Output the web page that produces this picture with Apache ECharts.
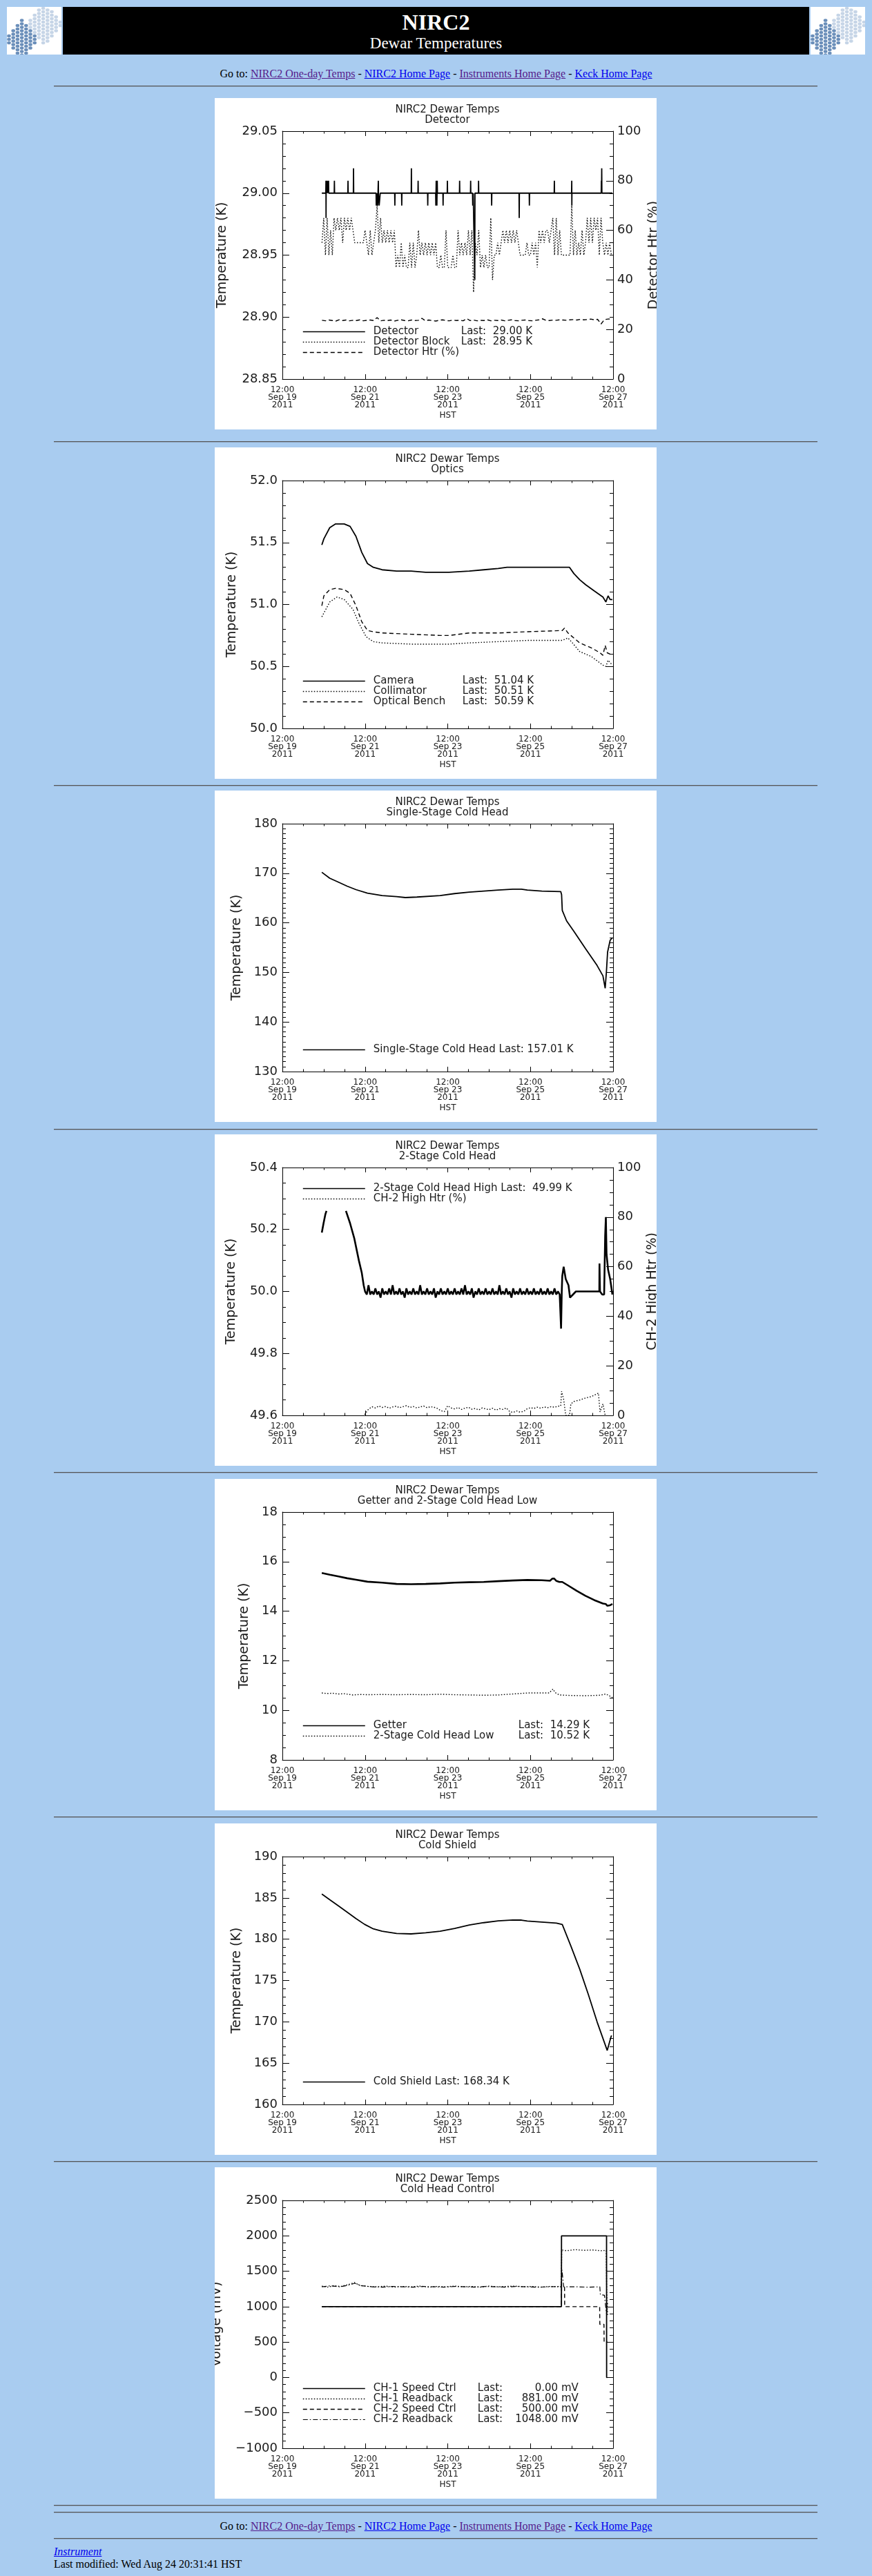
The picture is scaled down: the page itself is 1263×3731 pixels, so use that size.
<!DOCTYPE html>
<html>
<head>
<meta charset="utf-8">
<title>NIRC2 Dewar Temperatures</title>
<script src="https://cdn.jsdelivr.net/npm/echarts@6/dist/echarts.min.js"></script>
<style>
body { margin: 0; background: #a9ccf0; font-family: "Liberation Serif", "Times New Roman", serif; font-size: 16px; color: #000; }
#page { position: relative; width: 1263px; height: 3731px; overflow: hidden; }
.logo { position: absolute; top: 10px; width: 79px; height: 69px; background: #fff; }
.banner { position: absolute; left: 91px; top: 10px; width: 1081px; height: 69px; background: #000; color: #fff; text-align: center; }
.banner .t1 { position: absolute; left: 0; width: 100%; top: 4px; line-height: 36px; font-size: 32px; font-weight: bold; }
.banner .t2 { position: absolute; left: 0; width: 100%; top: 40px; line-height: 26px; font-size: 23px; }
.rule { position: absolute; left: 78px; width: 1106px; height: 0; border-top: 1px solid #555; border-bottom: 1px solid #8ea6c2; }
.goto { position: absolute; left: 0; width: 1263px; text-align: center; line-height: 18px; }
a.v { color: #551a8b; text-decoration: underline; }
a.u { color: #0000ee; text-decoration: underline; }
.foot { position: absolute; left: 78px; line-height: 18px; }
.panel { position: absolute; left: 311px; width: 640px; height: 480px; background: #fff; }
</style>
</head>
<body>
<div id="page">
  <svg class="logo" id="logoL" style="left:10px" viewBox="0 0 79 69"></svg>
  <div class="banner"><div class="t1">NIRC2</div><div class="t2">Dewar Temperatures</div></div>
  <svg class="logo" id="logoR" style="left:1174px" viewBox="0 0 79 69"></svg>

  <div class="goto" style="top:98px">Go to: <a class="v" href="#">NIRC2 One-day Temps</a> - <a class="u" href="#">NIRC2 Home Page</a> - <a class="v" href="#">Instruments Home Page</a> - <a class="u" href="#">Keck Home Page</a></div>

  <div id="panels"></div>

  <div class="goto" style="top:3650px">Go to: <a class="v" href="#">NIRC2 One-day Temps</a> - <a class="u" href="#">NIRC2 Home Page</a> - <a class="v" href="#">Instruments Home Page</a> - <a class="u" href="#">Keck Home Page</a></div>
  <div class="foot" style="top:3687px"><a class="u" href="#"><i>Instrument</i></a></div>
  <div class="foot" style="top:3705px">Last modified: Wed Aug 24 20:31:41 HST</div>
</div>

<script>
// x values are hours since 12:00 HST, Sep 19 2011
var xTickLabels = ['12:00\nSep 19\n2011', '12:00\nSep 21\n2011', '12:00\nSep 23\n2011', '12:00\nSep 25\n2011', '12:00\nSep 27\n2011'];

/* --- Detector --- */
var detectorTemp = [[22.9,29.00],
  [25.2,29.00],[25.3,29.01],[25.35,28.98],[25.4,29.00],
  [25.9,29.00],[26.0,29.01],[26.1,29.00],
  [26.7,29.00],[26.8,29.01],[26.9,29.00],
  [30.1,29.00],[30.2,29.01],[30.3,29.00],
  [38.0,29.00],[38.1,29.01],[38.2,29.00],
  [41.2,29.00],[41.3,29.02],[41.4,29.00],
  [54.4,29.00],[54.5,28.99],[54.7,28.99],[54.8,29.00],
  [55.2,29.00],[55.3,28.99],[55.5,29.00],[55.7,29.01],[55.8,29.00],
  [56.1,29.00],[56.2,28.99],[56.7,28.99],[56.8,29.00],
  [65.2,29.00],[65.3,28.99],[65.4,29.00],
  [69.2,29.00],[69.3,28.99],[69.4,29.00],
  [74.8,29.00],[74.9,29.02],[75.0,29.00],
  [78.7,29.00],[78.8,29.01],[78.9,29.00],
  [84.3,29.00],[84.4,28.99],[84.5,29.00],
  [89.0,29.00],[89.1,28.99],[89.2,29.00],[89.3,29.01],[89.4,29.00],[89.6,29.00],[89.7,28.99],[89.8,29.00],[89.9,29.01],[90.0,29.00],
  [93.2,29.00],[93.3,28.99],[93.4,29.00],
  [95.7,29.00],[95.8,29.01],[95.9,29.00],
  [102.8,29.00],[102.9,29.01],[103.0,29.00],
  [109.2,29.00],[109.3,29.01],[109.4,29.00],
  [110.4,29.00],[110.5,28.99],[110.7,28.99],[110.8,29.00],
  [111.6,29.00],[111.7,28.93],[111.8,29.00],
  [113.8,29.00],[113.9,29.01],[114.0,29.00],
  [121.4,29.00],[121.5,28.99],[121.6,29.00],
  [137.4,29.00],[137.5,28.98],[137.6,29.00],
  [143.3,29.00],[143.4,28.99],[143.5,29.00],
  [157.8,29.00],[157.9,29.01],[158.0,29.00],
  [167.9,29.00],[168.0,29.01],[168.05,28.99],[168.1,29.00],
  [185.1,29.00],[185.2,29.01],[185.3,29.00],[185.4,29.02],[185.5,29.00],
  [191.6,29.00]];
// hourly samples from hour 23
var blockStart = 23;
var blockTemp = [28.96,
  28.98,28.95,28.98,28.95,28.97,28.95,28.98,
  28.97,28.98,28.97,28.98,28.96,28.98,28.97,28.98,28.97,28.98,28.97,28.96,
  28.96,28.96,28.96,28.96,28.96,28.97,28.96,
  28.95,28.97,28.95,28.96,28.97,
  28.99,28.96,28.98,28.96,
  28.97,28.96,28.97,28.96,28.97,28.96,28.97,
  28.94,28.95,28.94,28.96,28.94,28.95,28.94,28.94,28.96,28.94,
  28.96,28.94,28.95,28.97,
  28.95,28.96,28.95,28.96,28.95,28.96,28.95,28.96,28.95,28.96,
  28.94,28.94,28.95,28.94,28.94,28.97,28.94,28.94,28.94,28.95,28.94,28.94,28.97,
  28.95,28.96,28.95,28.96,28.95,28.97,28.95,28.97,28.92,28.96,28.95,28.97,
  28.94,28.95,28.94,28.95,
  28.94,28.94,28.98,28.93,28.95,
  28.95,28.96,28.95,28.96,28.97,28.96,28.97,
  28.96,28.97,28.96,28.97,28.96,28.97,28.96,28.95,
  28.95,28.95,28.95,28.96,28.95,28.95,28.96,28.95,
  28.96,28.94,28.97,
  28.96,28.97,28.96,28.97,28.97,28.96,28.97,28.98,
  28.95,28.98,28.95,28.97,28.95,
  28.95,28.95,28.95,28.95,28.95,28.99,
  28.95,28.97,28.95,28.96,28.95,28.97,28.95,28.96,
  28.98,28.96,28.98,28.96,28.98,
  28.97,28.98,28.95,28.98,28.96,
  28.95,28.96,28.95,28.96,28.95];
// samples every 2 hours from hour 23, percent
var htrStart = 23;
var detectorHtr = [23.7,23.5,23.8,23.6,23.4,23.9,23.6,23.8,23.5,23.7,
  23.6,23.9,23.5,23.7,23.8,23.6,24.8,23.5,23.7,23.6,
  23.8,23.4,23.7,23.9,23.6,23.5,23.8,23.6,23.7,24.5,
  23.5,23.8,23.6,23.4,23.7,23.9,23.6,23.5,23.8,23.6,
  23.7,23.5,24.4,23.6,23.8,23.5,23.7,23.6,23.9,23.5,
  23.7,23.6,23.8,23.5,23.7,23.9,23.6,23.5,23.7,23.8,
  23.6,23.5,23.7,23.9,24.3,23.7,23.6,23.8,23.7,23.9,
  23.8,23.7,23.9,24.0,23.8,24.1,23.9,24.0,24.2,23.9,
  24.1,22.2,24.0,24.2,24.3];

/* --- Optics --- */
var cameraTemp = [[22.9,51.48],[24.1,51.53],[27.5,51.62],[30.9,51.65],[35.9,51.65],[39.3,51.63],[42.7,51.55],[46.1,51.42],
  [49.4,51.33],[52.8,51.30],[57.9,51.28],[66.3,51.27],[74.7,51.27],[83.2,51.26],[91.6,51.26],[96.7,51.26],[108.5,51.27],
  [116.9,51.28],[125.3,51.29],[130.4,51.30],[142.2,51.30],[166.7,51.30],[169.2,51.25],[172.6,51.20],[176.0,51.16],[181.0,51.11],
  [186.1,51.06],[187.8,51.02],[189.1,51.07],[190.3,51.04],[191.6,51.04]];
var collimatorTemp = [[22.9,50.90],[27.5,51.02],[31.7,51.06],[35.9,51.04],[41.0,50.96],[44.4,50.85],[48.6,50.74],[52.8,50.70],
  [57.9,50.69],[74.7,50.68],[91.6,50.68],[96.7,50.68],[108.5,50.69],[125.3,50.70],[142.2,50.71],[162.5,50.71],[165.8,50.73],
  [168.4,50.69],[172.6,50.62],[179.4,50.58],[186.1,50.51],[187.8,50.50],[189.1,50.55],[191.6,50.51]];
var benchTemp = [[22.9,50.99],[24.1,51.07],[27.5,51.12],[30.9,51.13],[35.9,51.12],[39.3,51.09],[42.7,50.99],[46.1,50.86],
  [49.4,50.79],[52.8,50.78],[57.9,50.77],[74.7,50.76],[91.6,50.75],[96.7,50.75],[108.5,50.77],[125.3,50.77],[142.2,50.78],
  [162.5,50.79],[163.8,50.81],[165.8,50.77],[169.2,50.73],[172.6,50.69],[179.4,50.65],[184.4,50.61],[186.1,50.59],[187.4,50.67],
  [188.6,50.61],[191.6,50.59]];

/* --- Single-stage cold head --- */
var singleStageTemp = [[22.9,170.2],[27.5,169.0],[32.6,168.2],[37.6,167.4],[42.7,166.7],[49.4,166.0],[57.9,165.5],[66.3,165.3],
  [71.4,165.1],[78.1,165.2],[91.6,165.5],[100.0,165.9],[108.5,166.2],[116.9,166.4],[125.3,166.6],[133.8,166.8],[138.8,166.8],
  [142.2,166.6],[150.6,166.4],[161.6,166.3],[162.1,165.7],[162.5,162.5],[165.0,160.4],[169.2,158.3],[176.0,154.8],[182.7,151.4],
  [186.1,149.3],[187.4,146.8],[188.1,150.0],[188.8,154.1],[190.3,156.5],[191.6,157.0]];

/* --- 2-stage cold head high --- */
var highPre = [[22.9,50.19],[23.9,50.22],[25.0,50.25],[25.6,50.26],[25.7,'-'],[36.9,50.26],[39.3,50.22],[41.8,50.17],
  [44.4,50.10],[46.1,50.06],[47.2,50.02]];
var highNoiseStart = 48; // hourly
var highNoise = [50.00,49.99,50.02,49.99,50.00,49.99,50.01,49.99,50.00,49.98,
  50.01,49.99,50.00,49.99,50.01,49.99,50.02,49.99,50.00,49.99,
  50.01,49.99,50.00,49.98,50.01,49.99,50.00,49.99,50.01,49.99,
  50.00,49.99,50.02,49.99,50.00,49.99,50.01,49.99,50.00,49.99,
  50.01,49.98,50.00,49.99,50.01,49.99,50.00,49.99,50.01,49.99,
  50.00,49.99,50.01,49.99,50.00,49.99,50.01,49.99,50.02,49.99,
  50.00,49.99,50.01,49.98,50.00,49.99,50.01,49.99,50.00,49.99,
  50.01,49.99,50.00,49.99,50.01,49.99,50.00,49.99,50.02,49.99,
  50.00,49.99,50.01,49.99,50.00,49.98,50.01,49.99,50.00,49.99,
  50.01,49.99,50.00,49.99,50.01,49.99,50.00,49.99,50.01,49.99,
  50.00,49.99,50.01,49.99,50.00,49.99,50.01,49.99,50.00,49.99,
  50.01,49.99,50.00,49.99];
var highPost = [[161.8,49.88],[162.2,50.00],[162.5,50.05],[163.3,50.08],[164.5,50.04],[166.1,50.02],[167.0,49.98],[168.7,49.99],
  [170.4,50.00],[175.0,50.00],[180.0,50.00],[184.0,50.00],[184.1,50.09],[184.4,50.00],[185.7,49.99],[186.8,49.99],[187.4,50.18],
  [187.8,50.24],[188.2,50.12],[189.1,50.07],[190.3,50.04],[191.6,49.99]];
var ch2HtrPre = [[47.7,0.3],[50.0,2.5]];
var ch2HtrStart = 52; // every 2 hours, percent
var ch2Htr = [3.5,3.0,3.8,3.2,3.6,2.9,3.4,3.7,3.1,3.5,3.9,3.2,3.6,3.0,3.4,3.8,3.1,3.5,3.3,2.8,
  1.9,1.5,3.9,
  3.0,2.6,3.2,2.4,2.9,3.3,2.5,2.8,2.2,3.0,2.6,2.3,2.9,2.1,2.7,2.4,3.0,
  1.5,1.2,1.8,1.3,1.6,
  2.6,3.1,2.8,3.3,2.9,3.4,3.1,3.5,3.3,3.7];
var ch2HtrPost = [[161.6,3.8],[162.1,9.7],[163.3,6.5],[164.5,0],[166.7,0],[167.5,4.6],[169.2,5.6],[172.6,6.2],[176.0,7.0],
  [179.4,7.6],[183.5,9.0],[184.4,1.4],[186.1,4.6],[187.4,0]];

/* --- Getter and 2-stage low --- */
var getterTemp = [[22.9,15.54],[27.5,15.47],[32.6,15.40],[37.6,15.33],[42.7,15.27],[49.4,15.19],[57.9,15.15],[66.3,15.10],
  [74.7,15.09],[83.2,15.10],[91.6,15.12],[100.0,15.15],[108.5,15.17],[116.9,15.18],[125.3,15.21],[133.8,15.24],[142.2,15.26],
  [150.6,15.25],[155.4,15.23],[156.6,15.31],[157.7,15.32],[159.1,15.22],[160.8,15.18],[162.5,15.18],[165.8,15.04],[170.9,14.82],
  [176.0,14.62],[181.0,14.45],[186.1,14.31],[187.8,14.29],[188.6,14.22],[190.3,14.24],[191.6,14.29]];
var lowTemp = [[22.9,10.70],[26.0,10.68],[29.2,10.69],[32.5,10.66],[35.9,10.67],[41.0,10.62],[45.0,10.64],[49.4,10.63],
  [57.9,10.64],[66.0,10.63],[74.7,10.64],[83.0,10.63],[91.6,10.65],[100.0,10.63],[108.5,10.62],[116.9,10.61],[125.3,10.62],
  [133.8,10.66],[142.2,10.70],[150.6,10.70],[154.9,10.70],[157.1,10.86],[158.3,10.72],[160.8,10.62],[167.5,10.60],[176.0,10.59],
  [184.4,10.61],[187.8,10.66],[191.6,10.52]];

/* --- Cold shield --- */
var coldShieldTemp = [[22.9,185.47],[27.5,184.78],[32.6,184.03],[37.6,183.28],[42.7,182.5],[47.7,181.8],[52.8,181.25],
  [57.9,180.97],[66.3,180.69],[74.7,180.64],[83.2,180.78],[91.6,180.97],[100.0,181.3],[108.5,181.72],[116.9,182.0],[125.3,182.22],
  [133.8,182.33],[138.8,182.31],[142.2,182.19],[150.6,182.08],[159.1,181.94],[162.5,181.78],[167.5,179.17],[172.6,176.39],
  [177.6,173.33],[182.7,170.0],[188.6,166.53],[189.4,166.67],[190.8,168.19],[191.1,168.34]];

/* --- Cold head control (mV) --- */
var ch1Ctrl = [[22.9,1000],[162.0,1000],[162.05,2000],[188.2,2000],[188.25,0],[188.6,0]];
var ch1Readback = [[22.9,1290],[26,1275],[30,1295],[34,1285],[38,1310],[41.8,1340],[45,1300],[50,1285],[55,1280],[60,1290],
  [65,1275],[70,1285],[75,1280],[80,1290],[85,1275],[90,1285],[95,1280],[100,1290],[105,1280],[110,1285],[115,1275],[120,1290],
  [125,1280],[130,1285],[135,1290],[140,1280],[145,1285],[150,1275],[155,1285],[161.9,1280],[162.2,1800],[165,1790],[170,1805],
  [175,1795],[180,1800],[185,1790],[188.0,1795],[188.3,1200],[188.8,881]];
var ch2Ctrl = [[22.9,1000],[162.0,1000],[162.1,1280],[163.8,1280],[163.9,1000],[184.2,1000],[184.3,750],[186.7,750],
  [186.8,500],[188.8,500]];
var ch2Readback = [[22.9,1280],[28,1295],[33,1280],[38,1300],[42,1330],[46,1295],[52,1280],[58,1275],[64,1285],[70,1280],
  [76,1275],[82,1285],[88,1280],[94,1275],[100,1285],[106,1280],[112,1275],[118,1285],[124,1280],[130,1275],[136,1285],
  [142,1280],[148,1275],[154,1280],[161.9,1285],[162.3,1520],[162.8,1400],[163.3,1280],[170,1280],[178,1275],[184.3,1280],
  [184.6,1170],[187.0,1160],[187.5,1040],[188.2,900],[188.8,1048]];

var panelTops = [142, 648, 1145, 1643, 2142, 2641, 3139];
var ruleTops = [124, 639, 1137, 1635, 2132, 2631, 3130, 3628, 3638, 3676];

var FONT = 'DejaVu Sans';
var INK = '#1a1a1a';

function sampled(start, step, values) {
  return values.map(function (v, i) { return [start + i * step, v]; });
}

var lineTypes = {
  solid: { type: 'solid', width: 1.8 },
  thick: { type: 'solid', width: 2.6 },
  dotted: { type: [1.5, 2.5], width: 1.4 },
  dashed: { type: [6, 4], width: 1.4 },
  dashdot: { type: [7, 3, 1.5, 3], width: 1.2 }
};

var panels = [
  { subtitle: 'Detector',
    left: { min: 28.85, max: 29.05, interval: 0.05, minor: 5, decimals: 2, name: 'Temperature (K)', nameGap: 77 },
    right: { min: 0, max: 100, interval: 20, minor: 4, decimals: 0, name: 'Detector Htr (%)', nameGap: 50 },
    legendTop: 331, nameW: 127,
    series: [
      { name: 'Detector', data: detectorTemp, style: 'solid', n: 'Detector', l: 'Last:  29.00 K' },
      { name: 'Detector Block', data: sampled(blockStart, 1, blockTemp), style: 'dotted', n: 'Detector Block', l: 'Last:  28.95 K' },
      { name: 'Detector Htr (%)', data: sampled(htrStart, 2, detectorHtr), style: 'dashed', axis: 1, n: 'Detector Htr (%)' }
    ] },
  { subtitle: 'Optics',
    left: { min: 50.0, max: 52.0, interval: 0.5, minor: 5, decimals: 1, name: 'Temperature (K)', nameGap: 63 },
    legendTop: 331, nameW: 129,
    series: [
      { name: 'Camera', data: cameraTemp, style: 'solid', n: 'Camera', l: 'Last:  51.04 K' },
      { name: 'Collimator', data: collimatorTemp, style: 'dotted', n: 'Collimator', l: 'Last:  50.51 K' },
      { name: 'Optical Bench', data: benchTemp, style: 'dashed', n: 'Optical Bench', l: 'Last:  50.59 K' }
    ] },
  { subtitle: 'Single-Stage Cold Head',
    left: { min: 130, max: 180, interval: 10, minor: 10, decimals: 0, name: 'Temperature (K)', nameGap: 56 },
    legendTop: 368,
    series: [
      { name: 'Single-Stage Cold Head', data: singleStageTemp, style: 'solid', n: 'Single-Stage Cold Head Last: 157.01 K' }
    ] },
  { subtitle: '2-Stage Cold Head',
    left: { min: 49.6, max: 50.4, interval: 0.2, minor: 4, decimals: 1, name: 'Temperature (K)', nameGap: 64 },
    right: { min: 0, max: 100, interval: 20, minor: 4, decimals: 0, name: 'CH-2 High Htr (%)', nameGap: 48 },
    legendTop: 71,
    series: [
      { name: '2-Stage Cold Head High', data: highPre.concat(sampled(highNoiseStart, 1, highNoise), highPost), style: 'thick',
        legendStyle: 'solid', n: '2-Stage Cold Head High Last:  49.99 K' },
      { name: 'CH-2 High Htr (%)', data: ch2HtrPre.concat(sampled(ch2HtrStart, 2, ch2Htr), ch2HtrPost), style: 'dotted', axis: 1,
        n: 'CH-2 High Htr (%)' }
    ] },
  { subtitle: 'Getter and 2-Stage Cold Head Low',
    left: { min: 8, max: 18, interval: 2, minor: 4, decimals: 0, name: 'Temperature (K)', nameGap: 45 },
    legendTop: 350, nameW: 210,
    series: [
      { name: 'Getter', data: getterTemp, style: 'thick', n: 'Getter', l: 'Last:  14.29 K' },
      { name: '2-Stage Cold Head Low', data: lowTemp, style: 'dotted', n: '2-Stage Cold Head Low', l: 'Last:  10.52 K' }
    ] },
  { subtitle: 'Cold Shield',
    left: { min: 160, max: 190, interval: 5, minor: 5, decimals: 0, name: 'Temperature (K)', nameGap: 56 },
    legendTop: 367,
    series: [
      { name: 'Cold Shield', data: coldShieldTemp, style: 'solid', n: 'Cold Shield Last: 168.34 K' }
    ] },
  { subtitle: 'Cold Head Control',
    left: { min: -1000, max: 2500, interval: 500, minor: 5, decimals: 0, name: 'Voltage (mV)', nameGap: 85 },
    legendTop: 313, nameW: 151, valueW: 106,
    series: [
      { name: 'CH-1 Speed Ctrl', data: ch1Ctrl, style: 'solid', n: 'CH-1 Speed Ctrl', l: 'Last:', v: '0.00 mV' },
      { name: 'CH-1 Readback', data: ch1Readback, style: 'dotted', n: 'CH-1 Readback', l: 'Last:', v: '881.00 mV' },
      { name: 'CH-2 Speed Ctrl', data: ch2Ctrl, style: 'dashed', n: 'CH-2 Speed Ctrl', l: 'Last:', v: '500.00 mV' },
      { name: 'CH-2 Readback', data: ch2Readback, style: 'dashdot', n: 'CH-2 Readback', l: 'Last:', v: '1048.00 mV' }
    ] }
];

function numberFormatter(decimals) {
  return function (v) { return v.toFixed(decimals).replace('-', '\u2212'); };
}

function xAxisFor(position) {
  var axis = {
    type: 'value', position: position, min: 0, max: 192, interval: 48,
    axisLine: { show: true, onZero: false, lineStyle: { color: '#000', width: 1 } },
    axisTick: { show: true, inside: true, length: 7, lineStyle: { color: '#000' } },
    minorTick: { show: true, splitNumber: 4, length: 3.5, lineStyle: { color: '#000' } },
    splitLine: { show: false },
    axisLabel: { show: false }
  };
  if (position === 'bottom') {
    axis.axisLabel = { show: true, margin: 10, fontFamily: FONT, fontSize: 12, lineHeight: 11, color: INK,
      formatter: function (v) { return xTickLabels[Math.round(v / 48)]; } };
    axis.name = 'HST';
    axis.nameLocation = 'middle';
    axis.nameGap = 47;
    axis.nameMoveOverlap = false;
    axis.nameTextStyle = { fontFamily: FONT, fontSize: 12, color: INK };
  }
  return axis;
}

function yAxisFor(a, position, withLabels) {
  var axis = {
    type: 'value', position: position, min: a.min, max: a.max, interval: a.interval,
    axisLine: { show: true, onZero: false, lineStyle: { color: '#000', width: 1 } },
    axisTick: { show: true, inside: true, length: 10, lineStyle: { color: '#000' } },
    minorTick: { show: true, splitNumber: a.minor, length: 5, lineStyle: { color: '#000' } },
    splitLine: { show: false },
    axisLabel: { show: false }
  };
  if (withLabels) {
    axis.axisLabel = { show: true, margin: position === 'left' ? 7 : 6, fontFamily: FONT, fontSize: 18, color: INK,
      formatter: numberFormatter(a.decimals) };
    axis.name = a.name;
    axis.nameLocation = 'middle';
    axis.nameRotate = 90;
    axis.nameGap = a.nameGap;
    axis.nameMoveOverlap = false;
    axis.nameTextStyle = { fontFamily: FONT, fontSize: 19, color: INK };
  }
  return axis;
}

function legendText(p, s) {
  if (p.valueW) return '{n|' + s.n + '}{l|' + s.l + '}{v|' + s.v + '}';
  if (p.nameW && s.l) return '{n|' + s.n + '}{l|' + s.l + '}';
  return '{l|' + s.n + '}';
}

function drawPanel(p, idx) {
  var div = document.createElement('div');
  div.className = 'panel';
  div.style.top = panelTops[idx] + 'px';
  document.getElementById('panels').appendChild(div);

  var chart = echarts.init(div);
  var texts = {};
  p.series.forEach(function (s) { texts[s.name] = legendText(p, s); });
  var rich = {
    n: { fontFamily: FONT, fontSize: 15, color: INK, width: p.nameW || 0 },
    l: { fontFamily: FONT, fontSize: 15, color: INK, width: p.valueW ? 40 : undefined },
    v: { fontFamily: FONT, fontSize: 15, color: INK, width: p.valueW || 0, align: 'right' }
  };

  chart.setOption({
    animation: false,
    backgroundColor: '#fff',
    title: {
      text: 'NIRC2 Dewar Temps\n' + p.subtitle, left: 337, top: 10, padding: 0, textAlign: 'center',
      textStyle: { fontFamily: FONT, fontSize: 15, fontWeight: 'normal', lineHeight: 14.5, color: INK }
    },
    grid: { left: 98, right: 63, top: 48, bottom: 73, containLabel: false, outerBoundsMode: 'none' },
    legend: {
      left: 127, top: p.legendTop, orient: 'vertical', padding: 0, itemGap: 0,
      itemWidth: 90, itemHeight: 18, selectedMode: false,
      itemStyle: { opacity: 0 },
      data: p.series.map(function (s) {
        var ls = lineTypes[s.legendStyle || s.style];
        return { name: s.name, lineStyle: { type: ls.type, width: Math.min(ls.width, 1.6), color: '#000' } };
      }),
      formatter: function (name) { return texts[name]; },
      textStyle: { fontFamily: FONT, fontSize: 15, color: INK, padding: [0, 0, 0, 7], rich: rich }
    },
    xAxis: [xAxisFor('bottom'), xAxisFor('top')],
    yAxis: [yAxisFor(p.left, 'left', true), p.right ? yAxisFor(p.right, 'right', true) : yAxisFor(p.left, 'right', false)],
    series: p.series.map(function (s) {
      return {
        name: s.name, type: 'line', data: s.data, xAxisIndex: 0, yAxisIndex: s.axis || 0,
        symbol: 'none', showSymbol: false, silent: true, connectNulls: false,
        lineStyle: Object.assign({ color: '#000' }, lineTypes[s.style]),
        itemStyle: { color: '#000' }
      };
    })
  });
}

panels.forEach(drawPanel);

ruleTops.forEach(function (t) {
  var r = document.createElement('div');
  r.className = 'rule';
  r.style.top = t + 'px';
  document.getElementById('page').appendChild(r);
});

// Keck hexagonal mirror logo
function drawLogo(id) {
  var svg = document.getElementById(id);
  var ns = 'http://www.w3.org/2000/svg';
  for (var c = 0; c < 13; c++) {
    for (var r = 0; r < 15; r++) {
      var cx = 3 + c * 6.2, cy = 2 + r * 5 + (c % 2) * 2.5;
      var dDark = Math.abs(cx - 22) + Math.abs(cy - 46) * 0.8;
      var dLight = Math.abs(cx - 55) + Math.abs(cy - 24) * 0.8;
      var fill = null;
      if (dDark < 24) fill = '#6b8fba';
      else if (dLight < 26) fill = '#c6d5e7';
      if (!fill) continue;
      var e = document.createElementNS(ns, 'ellipse');
      e.setAttribute('cx', cx); e.setAttribute('cy', cy);
      e.setAttribute('rx', 2.8); e.setAttribute('ry', 2.3);
      e.setAttribute('fill', fill);
      svg.appendChild(e);
    }
  }
}
drawLogo('logoL');
drawLogo('logoR');
</script>
</body>
</html>
